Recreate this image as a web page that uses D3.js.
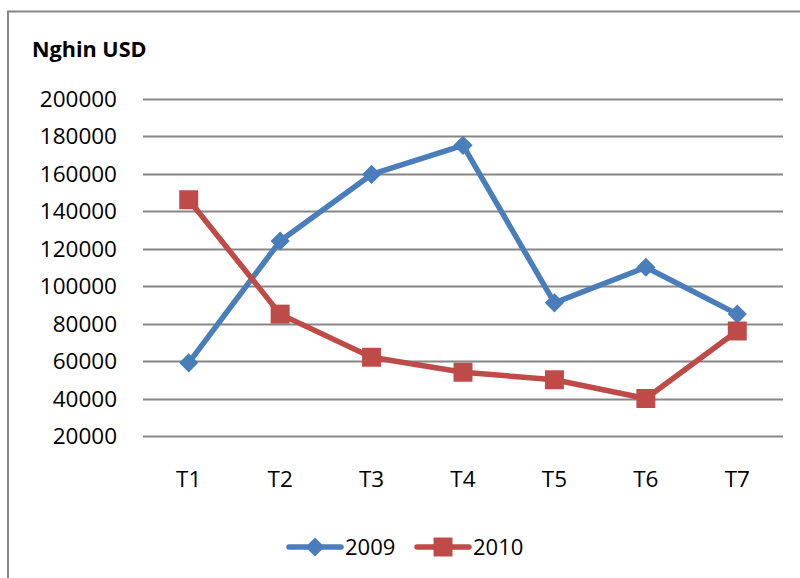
<!DOCTYPE html>
<html>
<head>
<meta charset="utf-8">
<script src="https://cdn.jsdelivr.net/npm/d3@7"></script>
<style>
  body { margin: 0; background: #fff; }
  text { font-family: 'Open Sans', 'Noto Sans', sans-serif; fill: #000; }
</style>
</head>
<body>
<script>
// chart data
const months = ['T1', 'T2', 'T3', 'T4', 'T5', 'T6', 'T7'];
const values2009 = [59000, 124000, 159500, 175000, 91000, 110000, 85000];
const values2010 = [146000, 85000, 62000, 54000, 50000, 40000, 76000];
const yTicks = [20000, 40000, 60000, 80000, 100000, 120000, 140000, 160000, 180000, 200000];
const seriesNames = ['2009', '2010'];

const width = 800;
const height = 578;
const blue = '#4a7ebb';
const red = '#be4b48';

const svg = d3.select('body').append('svg')
  .attr('width', width)
  .attr('height', height);

// outer frame (only top and left edges show in the crop)
svg.append('path')
  .attr('d', 'M8,578V11.5H800')
  .attr('fill', 'none')
  .attr('stroke', '#868686')
  .attr('stroke-width', 2);

const x = d3.scalePoint().domain(months).range([143, 783]).padding(0.5);
const y = d3.scaleLinear().domain([20000, 200000]).range([436, 98.5]);

// gridlines
svg.append('g').selectAll('line')
  .data(yTicks)
  .join('line')
  .attr('x1', 143)
  .attr('x2', 783)
  .attr('y1', (d) => Math.round(y(d)) + 0.5)
  .attr('y2', (d) => Math.round(y(d)) + 0.5)
  .attr('stroke', '#868686')
  .attr('stroke-width', 1.8);

// y labels
svg.append('g').selectAll('text')
  .data(yTicks)
  .join('text')
  .attr('x', 117)
  .attr('y', (d) => y(d) + 8)
  .attr('text-anchor', 'end')
  .attr('font-size', 22.5)
  .text((d) => d);

// x labels
svg.append('g').selectAll('text')
  .data(months)
  .join('text')
  .attr('x', (d) => x(d))
  .attr('y', 487)
  .attr('text-anchor', 'middle')
  .attr('font-size', 22.5)
  .text((d) => d);

// unit title
svg.append('text')
  .attr('x', 32)
  .attr('y', 57)
  .attr('font-size', 21.6)
  .attr('font-weight', 'bold')
  .text('Nghin USD');

const line = d3.line()
  .x((d, i) => x(months[i]))
  .y((d) => y(d));

const diamond = d3.symbol().type(d3.symbolSquare).size(185);
const square = d3.symbol().type(d3.symbolSquare).size(360);

// 2009 series
svg.append('path')
  .datum(values2009)
  .attr('d', line)
  .attr('fill', 'none')
  .attr('stroke', blue)
  .attr('stroke-width', 5.5)
  .attr('stroke-linejoin', 'round');
svg.append('g').selectAll('path')
  .data(values2009)
  .join('path')
  .attr('d', diamond)
  .attr('transform', (d, i) => `translate(${x(months[i])},${y(d)}) rotate(45)`)
  .attr('fill', blue);

// 2010 series
svg.append('path')
  .datum(values2010)
  .attr('d', line)
  .attr('fill', 'none')
  .attr('stroke', red)
  .attr('stroke-width', 5.5)
  .attr('stroke-linejoin', 'round');
svg.append('g').selectAll('path')
  .data(values2010)
  .join('path')
  .attr('d', square)
  .attr('transform', (d, i) => `translate(${x(months[i])},${y(d)})`)
  .attr('fill', red);

// legend
const legend = svg.append('g');
const legendItems = [
  { name: seriesNames[0], color: blue, sym: diamond, rot: 45, x0: 289 },
  { name: seriesNames[1], color: red, sym: square, rot: 0, x0: 417 },
];
legendItems.forEach((it) => {
  const g = legend.append('g').attr('transform', `translate(${it.x0},547)`);
  g.append('line')
    .attr('x1', 0).attr('x2', 52)
    .attr('stroke', it.color)
    .attr('stroke-width', 5.5)
    .attr('stroke-linecap', 'round');
  g.append('path')
    .attr('d', it.sym)
    .attr('transform', `translate(26,0) rotate(${it.rot})`)
    .attr('fill', it.color);
  g.append('text')
    .attr('x', 56)
    .attr('y', 8)
    .attr('font-size', 22)
    .text(it.name);
});
</script>
</body>
</html>
